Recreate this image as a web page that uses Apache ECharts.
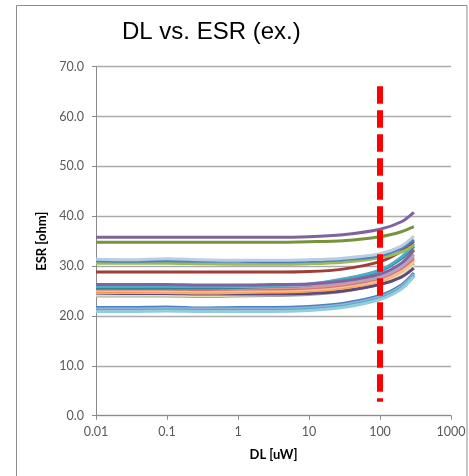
<!DOCTYPE html>
<html>
<head>
<meta charset="utf-8">
<script src="https://cdn.jsdelivr.net/npm/echarts@6/dist/echarts.min.js"></script>
<style>
  html, body { margin: 0; padding: 0; background: #fff; }
  #chart { width: 469px; height: 476px; }
</style>
</head>
<body>
<div id="chart"></div>
<script>
// DL values (uW) sampled by every curve
var dlPoints = [0.01, 0.03, 0.1, 0.3, 1, 3, 10, 30, 100, 200, 300];
var xTickLabels = ['0.01', '0.1', '1', '10', '100', '1000'];

// ESR [ohm] per sample
var esr01 = [35.8, 35.8, 35.8, 35.8, 35.8, 35.8, 35.9, 36.3, 37.4, 38.9, 40.8];
var esr02 = [34.8, 34.8, 34.8, 34.8, 34.8, 34.8, 34.9, 35.1, 35.9, 36.9, 37.9];
var esr03 = [31.4, 31.3, 31.5, 31.3, 31.2, 31.2, 31.3, 31.6, 32.5, 34.0, 36.0];
var esr04 = [31.1, 31.0, 31.1, 31.0, 31.0, 30.9, 31.0, 31.3, 32.1, 33.6, 35.3];
var esr05 = [30.6, 30.6, 30.6, 30.5, 30.4, 30.4, 30.5, 30.8, 31.7, 32.8, 34.2];
var esr06 = [28.8, 28.8, 28.8, 28.8, 28.8, 28.8, 28.9, 29.4, 30.9, 33.0, 35.0];
var esr07 = [26.3, 26.3, 26.3, 26.2, 26.2, 26.3, 26.4, 27.0, 28.4, 30.6, 33.2];
var esr08 = [25.9, 25.9, 26.0, 25.9, 26.0, 26.1, 26.4, 27.4, 29.2, 31.8, 34.5];
var esr09 = [26.1, 26.0, 26.0, 25.9, 25.9, 26.0, 26.2, 26.8, 28.0, 30.0, 32.4];
var esr10 = [25.7, 25.7, 25.7, 25.6, 25.6, 25.7, 25.8, 26.4, 27.8, 29.9, 32.0];
var esr11 = [25.4, 25.4, 25.4, 25.3, 25.4, 25.4, 25.6, 26.2, 27.6, 29.6, 31.6];
var esr12 = [24.9, 24.9, 24.9, 24.9, 24.9, 25.0, 25.2, 25.8, 27.4, 30.2, 33.4];
var esr13 = [25.1, 25.1, 25.0, 25.0, 25.0, 25.1, 25.3, 25.9, 27.2, 29.1, 30.8];
var esr14 = [24.7, 24.7, 24.7, 24.6, 24.7, 24.8, 25.0, 25.6, 27.0, 29.0, 31.2];
var esr15 = [24.2, 24.2, 24.2, 24.1, 24.2, 24.3, 24.5, 25.1, 26.7, 28.4, 30.2];
var esr16 = [24.0, 24.0, 24.0, 23.9, 24.0, 24.1, 24.3, 24.9, 26.5, 28.5, 30.6];
var esr17 = [24.6, 24.5, 24.5, 24.4, 24.4, 24.4, 24.5, 25.0, 26.3, 27.8, 29.6];
var esr18 = [25.6, 25.6, 25.6, 25.6, 25.7, 25.9, 26.2, 27.3, 29.0, 31.5, 34.0];
var esr19 = [21.7, 21.7, 21.8, 21.6, 21.7, 21.7, 21.9, 22.5, 24.1, 26.2, 28.6];
var esr20 = [21.4, 21.4, 21.5, 21.4, 21.4, 21.4, 21.6, 22.2, 23.8, 25.9, 28.3];
var esr21 = [21.1, 21.1, 21.2, 21.1, 21.1, 21.1, 21.3, 21.9, 23.5, 25.6, 28.1];
var esr22 = [20.9, 20.9, 21.0, 20.9, 20.9, 20.9, 21.1, 21.7, 23.3, 25.4, 27.9];

// red marker at DL = 100 uW
var limitDL = 100;
var limitRange = [66.1, 2.8];

var curves = [
  [esr19, '#4F81BD'], [esr20, '#95B3D7'], [esr21, '#4BACC6'], [esr22, '#93CDDD'],
  [esr16, '#A6A6A6'], [esr15, '#D7E4BD'], [esr17, '#604A7B'], [esr14, '#F9AB6B'],
  [esr12, '#F79646'], [esr13, '#FAC090'], [esr11, '#CD7371'], [esr10, '#D99694'],
  [esr18, '#31859C'], [esr09, '#B3A2C7'], [esr08, '#4BACC6'], [esr07, '#8064A2'],
  [esr06, '#A03C3A'], [esr05, '#9BBB59'], [esr04, '#4F81BD'], [esr03, '#B9CDE5'],
  [esr02, '#77933C'], [esr01, '#7F62A0']
];

var series = curves.map(function (c) {
  return {
    type: 'line',
    data: dlPoints.map(function (x, i) { return [x, c[0][i]]; }),
    showSymbol: false,
    symbol: 'none',
    smooth: 0.3,
    lineStyle: { color: c[1], width: 3 },
    silent: true
  };
});

series.push({
  type: 'line',
  data: limitRange.map(function (v) { return [limitDL, v]; }),
  symbol: 'none',
  lineStyle: { color: '#FF0000', width: 6, type: [17.5, 6.5], cap: 'butt' },
  z: 10,
  silent: true
});

var chart = echarts.init(document.getElementById('chart'), null, { renderer: 'canvas' });
chart.setOption({
  animation: false,
  title: {
    text: 'DL vs. ESR (ex.)',
    left: 122,
    top: 20,
    padding: 0,
    textStyle: { fontFamily: 'Liberation Sans', fontSize: 24, fontWeight: 'normal', color: '#000' }
  },
  graphic: [{
    type: 'rect',
    shape: { x: 16.5, y: 5.5, width: 450.5, height: 490 },
    style: { fill: 'none', stroke: '#8c8c8c', lineWidth: 1 },
    silent: true
  }],
  grid: { left: 96, right: 18, top: 66.7, bottom: 60.3, containLabel: false },
  xAxis: {
    type: 'log',
    logBase: 10,
    min: 0.01,
    max: 1000,
    name: 'DL [uW]',
    nameLocation: 'middle',
    nameGap: 33,
    nameTextStyle: { fontFamily: 'Lato', fontSize: 13, fontWeight: 'bold', color: '#000' },
    axisLine: { lineStyle: { color: '#8a8a8a', width: 1 } },
    axisTick: { show: true, inside: false, length: 4, lineStyle: { color: '#8a8a8a' } },
    minorTick: { show: false },
    splitLine: { show: false },
    axisLabel: {
      margin: 10,
      fontFamily: 'Lato',
      fontSize: 12.5,
      color: '#595959',
      formatter: function (v, i) { return xTickLabels[i]; }
    }
  },
  yAxis: {
    type: 'value',
    min: 0,
    max: 70,
    interval: 10,
    name: 'ESR [ohm]',
    nameLocation: 'middle',
    nameGap: 44,
    nameTextStyle: { fontFamily: 'Lato', fontSize: 13, fontWeight: 'bold', color: '#000' },
    axisLine: { show: true, lineStyle: { color: '#8a8a8a', width: 1 } },
    axisTick: { show: true, inside: false, length: 4, lineStyle: { color: '#8a8a8a' } },
    splitLine: { show: true, lineStyle: { color: '#ababab', width: 1.3 } },
    axisLabel: {
      margin: 12,
      fontFamily: 'Lato',
      fontSize: 12.5,
      color: '#595959',
      formatter: function (v) { return v.toFixed(1); }
    }
  },
  series: series
});
</script>
</body>
</html>
